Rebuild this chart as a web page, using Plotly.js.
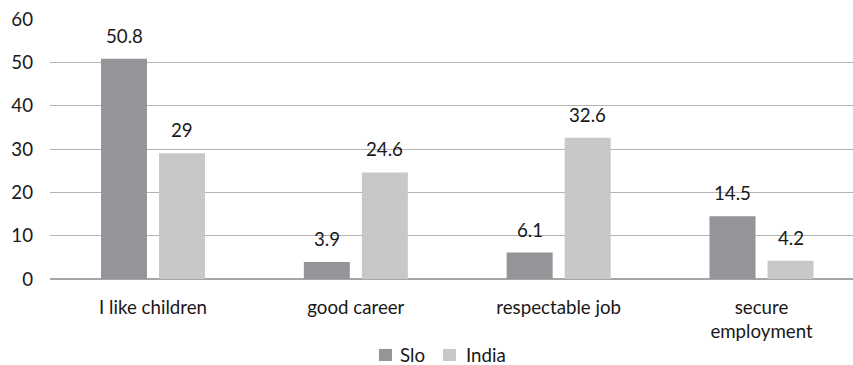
<!DOCTYPE html>
<html>
<head>
<meta charset="utf-8">
<script src="https://cdn.plot.ly/plotly-3.0.1.min.js"></script>
<style>
  html, body { margin: 0; padding: 0; background: #fff; }
  #chart { width: 853px; height: 365px; }
</style>
</head>
<body>
<div id="chart"></div>
<script>
// Reasons for choosing the profession, share of answers (%)
const categories = ['I like children', 'good career', 'respectable job', 'secure<br>employment'];
const sloValues = [50.8, 3.9, 6.1, 14.5];
const indiaValues = [29, 24.6, 32.6, 4.2];
const seriesNames = ['Slo', 'India'];
const seriesColors = ['#939598', '#c7c8ca'];

const FONT = 'Lato, Open Sans, sans-serif';
const TEXT = '#1a1718';
const SIZE = 18.7;

const traces = [sloValues, indiaValues].map((vals, s) => ({
  type: 'bar', name: seriesNames[s], x: categories, y: vals,
  marker: { color: seriesColors[s] }, hoverinfo: 'none', showlegend: false
}));

// value labels above each bar
const annotations = [];
[sloValues, indiaValues].forEach((vals, s) => {
  vals.forEach((v, i) => {
    annotations.push({
      x: categories[i], y: v, xref: 'x', yref: 'y',
      text: String(v), showarrow: false,
      xshift: s === 0 ? -29 : 29, yshift: 23,
      font: { family: FONT, size: SIZE, color: TEXT }
    });
  });
});

// compact legend below the axis: square swatch followed by the series name
const shapes = [];
const legendSwatchX = [0.4097, 0.4894];
const legendTextX = [0.4334, 0.5156];
seriesNames.forEach((name, s) => {
  shapes.push({
    type: 'rect', xref: 'paper', yref: 'paper',
    x0: legendSwatchX[s], x1: legendSwatchX[s] + 0.0162, y0: -0.3154, y1: -0.269,
    fillcolor: seriesColors[s], line: { width: 0 }
  });
  annotations.push({
    xref: 'paper', yref: 'paper', x: legendTextX[s], y: -0.2923,
    xanchor: 'left', yanchor: 'middle', text: name, showarrow: false,
    font: { family: FONT, size: SIZE, color: TEXT }
  });
});

const layout = {
  width: 853, height: 365,
  margin: { l: 50, r: 0, t: 19, b: 86 },
  paper_bgcolor: '#fff', plot_bgcolor: '#fff',
  barmode: 'group', bargap: 0.428, bargroupgap: 0.207,
  font: { family: FONT, size: SIZE, color: TEXT },
  xaxis: { range: [-0.5078, 3.451], showgrid: false, zeroline: false, showline: false,
           ticks: '', automargin: false, ticklabelstandoff: 15,
           tickfont: { size: SIZE, color: TEXT } },
  yaxis: { range: [0, 60], dtick: 10, showgrid: true, gridcolor: '#b3b3b3', gridwidth: 1,
           zeroline: true, zerolinecolor: '#a6a6a6', zerolinewidth: 1.5, automargin: false,
           showline: false, ticks: '', ticklabelstandoff: 16,
           tickfont: { size: SIZE, color: TEXT } },
  showlegend: false,
  shapes: shapes,
  annotations: annotations
};

Plotly.newPlot('chart', traces, layout, { staticPlot: true, displayModeBar: false });
</script>
</body>
</html>
